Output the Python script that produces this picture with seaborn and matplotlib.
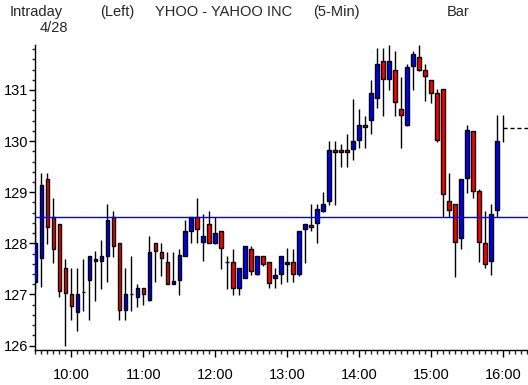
import numpy as np
import pandas as pd
import matplotlib
matplotlib.use("Agg")
import matplotlib.pyplot as plt
import seaborn as sns

# 5-min bars of YHOO, 4/28, starting 9:30
opens = [127.25, 127.71, 129.25, 128.52, 128.38, 127.52, 127.00, 126.65, 127.05, 127.28,
         127.69, 127.65, 127.76, 128.51, 128.00, 126.70, 127.00, 126.95, 127.13, 126.90,
         128.00, 127.82, 127.63, 127.21, 127.28, 127.76, 128.25, 128.51, 128.02, 128.37,
         128.01, 128.25, 127.63, 127.63, 127.13, 127.33, 127.88, 127.39, 127.75, 127.63,
         127.33, 127.39, 127.59, 127.63, 127.39, 128.27, 128.36, 128.39, 128.64, 128.83,
         129.82, 129.82, 129.82, 129.84, 130.02, 130.31, 130.41, 130.85, 131.56, 131.21,
         131.39, 130.62, 130.32, 131.46, 131.64, 131.39, 131.19, 130.94, 131.01, 128.82,
         128.76, 128.10, 129.27, 130.19, 129.02, 128.00, 127.65, 128.65, 130.26]
highs = [128.38, 129.38, 129.38, 128.89, 128.38, 127.70, 127.52, 127.52, 127.70, 127.75,
         127.84, 128.06, 128.77, 128.63, 128.00, 127.52, 127.75, 127.20, 127.13, 128.14,
         128.00, 128.00, 127.83, 127.83, 127.88, 128.46, 128.51, 128.89, 128.58, 128.63,
         128.52, 128.25, 127.75, 127.88, 127.51, 127.94, 127.94, 127.75, 127.75, 127.63,
         127.51, 127.75, 127.90, 127.89, 128.25, 128.37, 128.77, 128.77, 129.00, 130.00,
         130.00, 129.94, 130.13, 130.82, 130.63, 130.50, 131.20, 131.82, 131.82, 131.88,
         131.76, 131.25, 131.51, 131.76, 131.88, 131.50, 131.19, 131.01, 131.01, 129.37,
         128.76, 129.25, 130.31, 130.19, 129.06, 128.63, 128.77, 130.51, 130.51]
lows = [127.10, 127.14, 127.99, 127.61, 126.94, 125.99, 126.49, 126.29, 126.68, 126.49,
        126.88, 127.11, 127.24, 127.74, 126.49, 126.49, 126.68, 126.75, 126.80, 126.88,
        127.25, 127.36, 127.20, 127.20, 126.99, 127.76, 128.00, 128.00, 127.66, 128.01,
        127.99, 127.50, 127.11, 126.99, 126.99, 127.32, 127.37, 127.37, 127.55, 127.12,
        127.12, 127.20, 127.25, 127.25, 127.36, 127.62, 128.25, 128.00, 128.62, 128.75,
        128.75, 129.50, 129.50, 129.63, 129.86, 129.87, 130.14, 130.65, 130.50, 131.00,
        130.50, 129.87, 130.30, 131.00, 131.37, 130.79, 130.75, 129.99, 128.51, 128.51,
        127.35, 127.88, 128.99, 128.88, 127.63, 127.51, 127.37, 128.51, 129.99]
closes = [128.00, 129.14, 128.31, 127.89, 127.07, 127.02, 126.77, 127.00, 127.05, 127.75,
          127.65, 127.75, 128.46, 127.95, 126.69, 127.00, 127.00, 127.13, 127.01, 127.82,
          127.84, 127.71, 127.21, 127.26, 127.77, 128.25, 128.51, 128.27, 128.14, 128.01,
          128.20, 127.90, 127.63, 127.13, 127.51, 127.94, 127.45, 127.75, 127.59, 127.22,
          127.37, 127.75, 127.63, 127.39, 128.25, 128.37, 128.32, 128.68, 128.76, 129.82,
          129.78, 129.78, 129.78, 130.00, 130.31, 130.27, 130.94, 131.50, 131.21, 131.56,
          130.77, 130.52, 131.44, 131.70, 131.40, 131.27, 130.95, 130.02, 128.96, 128.65,
          128.02, 129.25, 130.21, 129.02, 128.02, 127.59, 128.57, 130.00, 130.26]
prev_close = 128.52
last_price = 130.26
hour_labels = ["10:00", "11:00", "12:00", "13:00", "14:00", "15:00", "16:00"]

df = pd.DataFrame({"open": opens, "high": highs, "low": lows, "close": closes})
df["t"] = np.arange(len(df)) * 5  # minutes after 9:30

sns.set_style("ticks")
plt.rcParams["font.family"] = ["Liberation Sans", "DejaVu Sans"]
plt.rcParams["font.size"] = 10.5

fig = plt.figure(figsize=(5.28, 3.85), dpi=100)
ax = fig.add_axes([35 / 528, 35 / 385, 493 / 528, 305 / 385])

# wicks
ax.vlines(df["t"], df["low"], df["high"], color="black", linewidth=1, zorder=2)

# bodies (last bar is the running tick, drawn as a range only)
body = df.iloc[:-1]
up = body["close"] >= body["open"]
bottoms = body[["open", "close"]].min(axis=1)
heights = (body["close"] - body["open"]).abs()
ax.bar(body["t"], heights, bottom=bottoms, width=2.8,
       color=np.where(up, "#0000ff", "#ff0000"), edgecolor="black",
       linewidth=1, zorder=3)

ax.axhline(prev_close, color="#0000ff", linewidth=1, zorder=4)
ax.hlines(last_price, df["t"].iloc[-1], 420, color="black", linewidth=1,
          linestyles=(0, (3, 2)), zorder=4)

ax.set_xlim(-0.2, 410.8)
ax.set_ylim(125.912, 131.88)

ax.set_xticks(np.arange(30, 391, 60))
ax.set_xticklabels(hour_labels)
ax.set_xticks(np.arange(0, 411, 5), minor=True)
ax.set_yticks(np.arange(126, 132))
ax.set_yticks(np.arange(126, 131.9, 0.2), minor=True)

ax.tick_params(axis="x", which="major", length=5, width=1, pad=8, colors="black")
ax.tick_params(axis="x", which="minor", length=3, width=1)
ax.tick_params(axis="y", which="major", length=4, width=1, pad=1, colors="black")
ax.tick_params(axis="y", which="minor", length=2.5, width=1)

sns.despine(ax=ax, top=True, right=True)
for s in ["left", "bottom"]:
    ax.spines[s].set_color("black")
    ax.spines[s].set_linewidth(1)

def ftext(x, y, s):
    fig.text(x / 528, 1 - y / 385, s, ha="left", va="baseline", fontsize=10.5)

ftext(10, 16, "Intraday")
ftext(40, 32, "4/28")
ftext(100, 16, "(Left)")
ftext(155, 16, "YHOO - YAHOO INC")
ftext(313, 16, "(5-Min)")
ftext(447, 16, "Bar")

fig.savefig("out.png", dpi=100)
